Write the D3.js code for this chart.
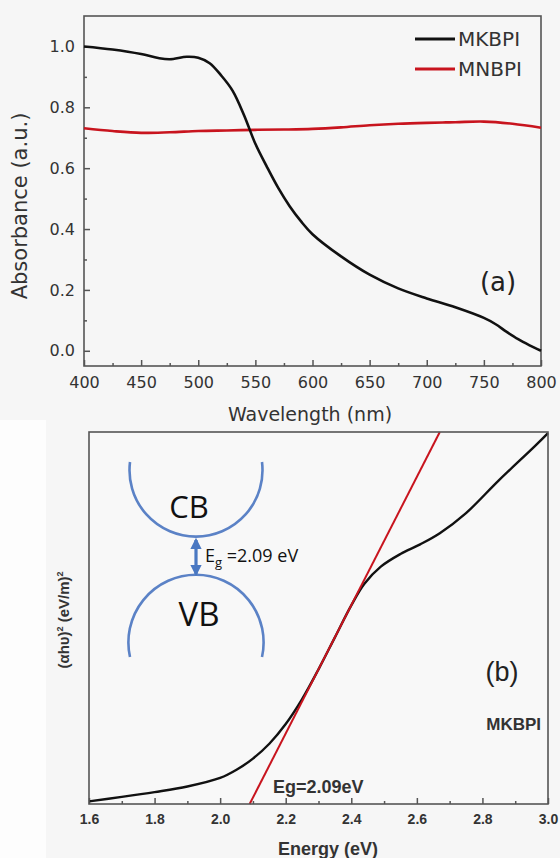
<!DOCTYPE html>
<meta charset="utf-8">
<script src="https://d3js.org/d3.v7.js"></script>
<style>
body { margin: 0; background: #f6f6f6; }
svg { display: block; }
</style>
<div id="chart"></div>
<script>
// panel (a) absorbance spectra
var wavelength = [400, 425, 450, 465, 475, 490, 500, 510, 520, 530, 540, 550, 560, 570, 580, 590, 600, 625, 650, 675, 700, 725, 750, 760, 770, 780, 790, 800];
var mkbpiAbs   = [1.0, 0.99, 0.975, 0.962, 0.958, 0.966, 0.963, 0.945, 0.905, 0.855, 0.775, 0.68, 0.605, 0.535, 0.475, 0.425, 0.383, 0.31, 0.25, 0.205, 0.172, 0.143, 0.108, 0.088, 0.062, 0.038, 0.018, 0.0];
var wlRed      = [400, 425, 450, 475, 500, 525, 550, 575, 600, 625, 650, 675, 700, 725, 750, 775, 800];
var mnbpiAbs   = [0.731, 0.722, 0.716, 0.718, 0.722, 0.724, 0.726, 0.727, 0.729, 0.734, 0.741, 0.746, 0.749, 0.751, 0.753, 0.746, 0.733];
var xTicksA = [400, 450, 500, 550, 600, 650, 700, 750, 800];
var yTicksA = [0.0, 0.2, 0.4, 0.6, 0.8, 1.0];

// panel (b) Tauc plot (arbitrary units)
var energy  = [1.6, 1.7, 1.8, 1.9, 2.0, 2.05, 2.10, 2.15, 2.20, 2.25, 2.30, 2.35, 2.40, 2.44, 2.49, 2.55, 2.61, 2.67, 2.75, 2.85, 2.96, 3.0];
var tauc    = [0.07, 0.19, 0.32, 0.47, 0.70, 0.92, 1.22, 1.62, 2.15, 2.82, 3.62, 4.48, 5.34, 5.92, 6.38, 6.72, 6.98, 7.28, 7.82, 8.70, 9.62, 9.97];
var fitE    = [2.09, 2.67];
var fitY    = [0, 10];
var xTicksB = [1.6, 1.8, 2.0, 2.2, 2.4, 2.6, 2.8, 3.0];

var W = 560, H = 858;
var svg = d3.select("#chart").append("svg").attr("width", W).attr("height", H);

svg.append("rect").attr("width", W).attr("height", H).attr("fill", "#f6f6f6");
svg.append("rect").attr("x", 0).attr("y", 420).attr("width", 46).attr("height", 438).attr("fill", "#fdfdfd");

var fontA = "'DejaVu Sans', sans-serif";
var fontB = "'Liberation Sans', Arial, sans-serif";

// ---------- panel (a) ----------
var xA = d3.scaleLinear().domain([400, 800]).range([84, 541]);
var yA = d3.scaleLinear().domain([-0.05, 1.1]).range([366, 16]);

var gA = svg.append("g");

gA.append("g")
  .attr("transform", "translate(0," + yA.range()[0] + ")")
  .call(d3.axisBottom(xA).tickValues(d3.range(425, 800, 50)).tickSize(-3).tickFormat(""));
gA.append("g")
  .attr("transform", "translate(0," + yA.range()[0] + ")")
  .call(d3.axisBottom(xA).tickValues(xTicksA).tickSize(-6).tickPadding(11).tickFormat(d3.format("d")));
gA.append("g")
  .attr("transform", "translate(" + xA.range()[0] + ",0)")
  .call(d3.axisLeft(yA).tickValues([0.1, 0.3, 0.5, 0.7, 0.9]).tickSize(-3).tickFormat(""));
gA.append("g")
  .attr("transform", "translate(" + xA.range()[0] + ",0)")
  .call(d3.axisLeft(yA).tickValues(yTicksA).tickSize(-6).tickPadding(9).tickFormat(d3.format(".1f")));

gA.selectAll(".domain").remove();
gA.selectAll(".tick line").attr("stroke", "#555").attr("stroke-width", 1.5);
gA.selectAll(".tick text").attr("font-family", fontA).attr("font-size", 16).attr("fill", "#333");

gA.append("rect")
  .attr("x", 84).attr("y", 16).attr("width", 457).attr("height", 350)
  .attr("fill", "none").attr("stroke", "#555").attr("stroke-width", 1.6);

var lineA = d3.line().x(d => xA(d[0])).y(d => yA(d[1])).curve(d3.curveCatmullRom.alpha(0.5));

gA.append("path")
  .datum(wlRed.map((w, i) => [w, mnbpiAbs[i]]))
  .attr("d", lineA).attr("fill", "none").attr("stroke", "#c8141e").attr("stroke-width", 2.6);
gA.append("path")
  .datum(wavelength.map((w, i) => [w, mkbpiAbs[i]]))
  .attr("d", lineA).attr("fill", "none").attr("stroke", "#111").attr("stroke-width", 2.6);

// legend
var legend = [["MKBPI", "#111", 39], ["MNBPI", "#c8141e", 69]];
legend.forEach(function(l) {
  gA.append("line").attr("x1", 415).attr("x2", 455).attr("y1", l[2]).attr("y2", l[2])
    .attr("stroke", l[1]).attr("stroke-width", 2.8);
  gA.append("text").attr("x", 458).attr("y", l[2] + 7).text(l[0])
    .attr("font-family", fontA).attr("font-size", 20).attr("fill", "#333");
});

gA.append("text").attr("x", 498).attr("y", 291).attr("text-anchor", "middle").text("(a)")
  .attr("font-family", fontA).attr("font-size", 26).attr("fill", "#222");

gA.append("text").attr("x", 310).attr("y", 421).attr("text-anchor", "middle").text("Wavelength (nm)")
  .attr("font-family", fontA).attr("font-size", 19).attr("fill", "#333");
gA.append("text").attr("transform", "translate(27,206) rotate(-90)").attr("text-anchor", "middle")
  .text("Absorbance (a.u.)")
  .attr("font-family", fontA).attr("font-size", 21).attr("fill", "#333");

// ---------- panel (b) ----------
var xB = d3.scaleLinear().domain([1.6, 3.0]).range([89, 548]);
var yB = d3.scaleLinear().domain([0, 10]).range([804, 432]);

var gB = svg.append("g");
gB.append("rect").attr("x", 89).attr("y", 432).attr("width", 459).attr("height", 372).attr("fill", "#f8f8f8");

gB.append("g")
  .attr("transform", "translate(0," + yB.range()[0] + ")")
  .call(d3.axisBottom(xB).tickValues(d3.range(1.7, 3.0, 0.2)).tickSize(-3).tickFormat(""));
gB.append("g")
  .attr("transform", "translate(0," + yB.range()[0] + ")")
  .call(d3.axisBottom(xB).tickValues(xTicksB).tickSize(-6).tickPadding(10).tickFormat(d3.format(".1f")));
gB.selectAll(".domain").remove();
gB.selectAll(".tick line").attr("stroke", "#555").attr("stroke-width", 1.5);
gB.selectAll(".tick text").attr("font-family", fontB).attr("font-weight", "bold").attr("font-size", 14).attr("fill", "#333");

var lineB = d3.line().x(d => xB(d[0])).y(d => yB(d[1])).curve(d3.curveCatmullRom.alpha(0.5));

gB.append("path")
  .datum(energy.map((e, i) => [e, tauc[i]]))
  .attr("d", lineB).attr("fill", "none").attr("stroke", "#111").attr("stroke-width", 2.4);
gB.append("path")
  .datum(fitE.map((e, i) => [e, fitY[i]]))
  .attr("d", d3.line().x(d => xB(d[0])).y(d => yB(d[1])))
  .attr("fill", "none").attr("stroke", "#c8141e").attr("stroke-width", 2);

gB.append("rect")
  .attr("x", 89).attr("y", 432).attr("width", 459).attr("height", 372)
  .attr("fill", "none").attr("stroke", "#555").attr("stroke-width", 1.6);

// band diagram inset
var blue = "#5b82c6";
gB.append("path").attr("d", "M130,462 A66.5,66.5 0 1 0 262,462")
  .attr("fill", "none").attr("stroke", blue).attr("stroke-width", 2.6);
gB.append("path").attr("d", "M130,657 A67.6,67.6 0 1 1 262,657")
  .attr("fill", "none").attr("stroke", blue).attr("stroke-width", 2.6);

var defs = svg.append("defs");
defs.append("marker").attr("id", "ah").attr("viewBox", "0 0 10 10").attr("refX", 8).attr("refY", 5)
  .attr("markerWidth", 3.6).attr("markerHeight", 3.6).attr("orient", "auto-start-reverse")
  .append("path").attr("d", "M0,0 L10,5 L0,10 Z").attr("fill", "#4a78c2");
gB.append("line").attr("x1", 196).attr("x2", 196).attr("y1", 540).attr("y2", 574)
  .attr("stroke", "#4a78c2").attr("stroke-width", 3.2)
  .attr("marker-start", "url(#ah)").attr("marker-end", "url(#ah)");

var fontC = "'Open Sans', sans-serif";
gB.append("text").attr("x", 189).attr("y", 518).attr("text-anchor", "middle").text("CB")
  .attr("font-family", fontC).attr("font-size", 31).attr("fill", "#111");
gB.append("text").attr("x", 199).attr("y", 626).attr("text-anchor", "middle").text("VB")
  .attr("font-family", fontC).attr("font-size", 33).attr("fill", "#111");
var eg = gB.append("text").attr("x", 205).attr("y", 562)
  .attr("font-family", fontC).attr("font-size", 18).attr("fill", "#111");
eg.append("tspan").text("E");
eg.append("tspan").attr("dy", 5).attr("font-size", 13).text("g");
eg.append("tspan").attr("dy", -5).text(" =2.09 eV");

gB.append("text").attr("x", 502).attr("y", 681).attr("text-anchor", "middle").text("(b)")
  .attr("font-family", fontB).attr("font-size", 27).attr("fill", "#222");
gB.append("text").attr("x", 541).attr("y", 730).attr("text-anchor", "end").text("MKBPI")
  .attr("font-family", fontB).attr("font-weight", "bold").attr("font-size", 17).attr("fill", "#333");
gB.append("text").attr("x", 273).attr("y", 793).text("Eg=2.09eV")
  .attr("font-family", fontB).attr("font-weight", "bold").attr("font-size", 18).attr("fill", "#333");

gB.append("text").attr("x", 328).attr("y", 855).attr("text-anchor", "middle").text("Energy (eV)")
  .attr("font-family", fontB).attr("font-weight", "bold").attr("font-size", 18).attr("fill", "#333");

var yl = gB.append("text").attr("transform", "translate(69,620) rotate(-90)").attr("text-anchor", "middle")
  .attr("font-family", fontB).attr("font-weight", "bold").attr("font-size", 15).attr("fill", "#333");
yl.append("tspan").text("(αhυ)");
yl.append("tspan").attr("dy", -6).attr("font-size", 9).text("2");
yl.append("tspan").attr("dy", 6).text(" (eV/m)");
yl.append("tspan").attr("dy", -6).attr("font-size", 9).text("2");
</script>
</html>
